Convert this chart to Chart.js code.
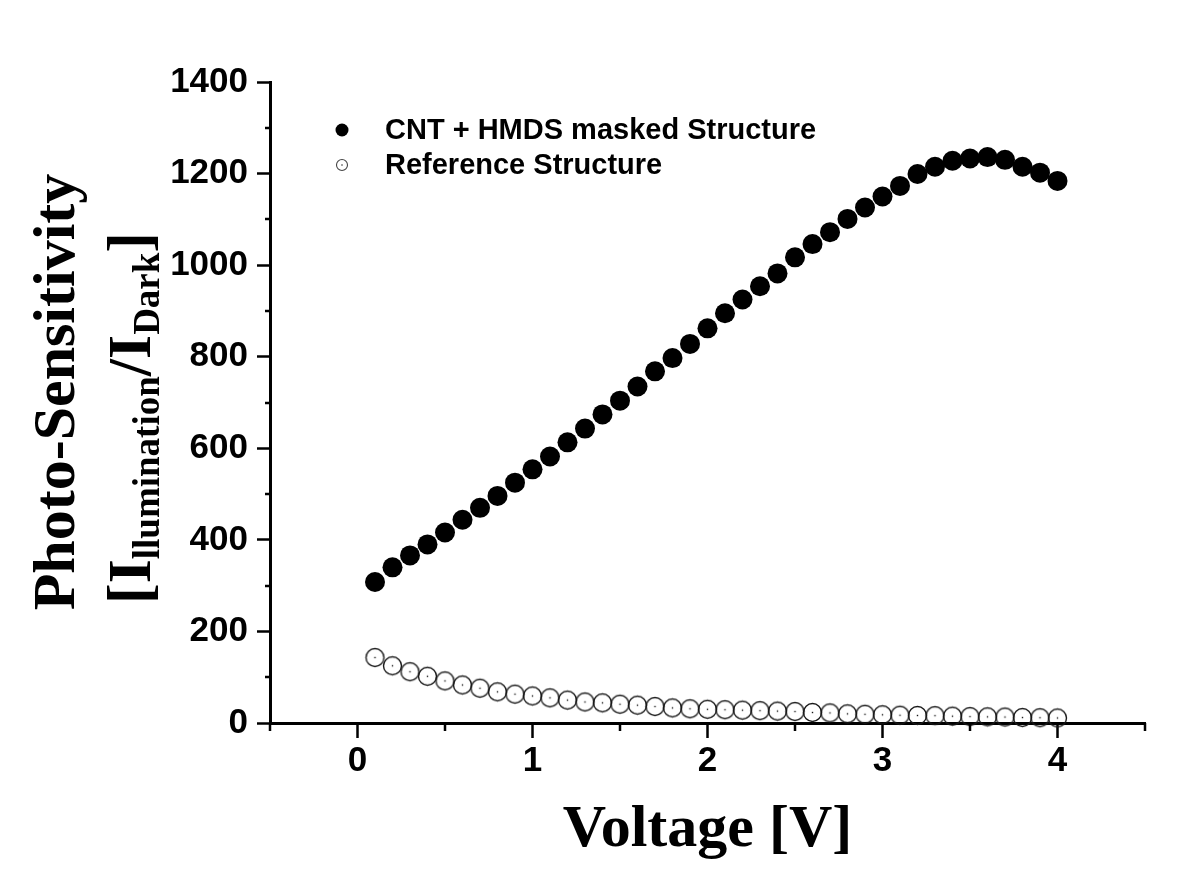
<!DOCTYPE html>
<html>
<head>
<meta charset="utf-8">
<script src="https://cdn.jsdelivr.net/npm/chart.js@4/dist/chart.umd.min.js"></script>
<style>
  html, body { margin: 0; padding: 0; background: #ffffff; }
  #wrap { width: 1200px; height: 869px; position: relative; }
</style>
</head>
<body>
<div id="wrap"><canvas id="c"></canvas></div>
<script>
// ---------------- data ----------------
const voltage = [0.1, 0.2, 0.3, 0.4, 0.5, 0.6, 0.7, 0.8, 0.9, 1.0,
                 1.1, 1.2, 1.3, 1.4, 1.5, 1.6, 1.7, 1.8, 1.9, 2.0,
                 2.1, 2.2, 2.3, 2.4, 2.5, 2.6, 2.7, 2.8, 2.9, 3.0,
                 3.1, 3.2, 3.3, 3.4, 3.5, 3.6, 3.7, 3.8, 3.9, 4.0];
const cntHmdsMasked = [308, 340, 366, 390, 416, 444, 470, 496, 525, 554,
                       582, 613, 643, 674, 704, 735, 768, 797, 828, 862,
                       895, 925, 954, 982, 1017, 1046, 1072, 1101, 1126, 1150,
                       1173, 1199, 1215, 1228, 1233, 1236, 1230, 1215, 1202, 1184];
const referenceStructure = [143, 125, 112, 102, 92, 83, 76, 68, 63, 59,
                            55, 50, 46, 44, 41, 39, 36, 33, 31, 30,
                            29, 28, 27, 26, 25, 23, 22, 20, 19, 18,
                            17, 16.5, 16, 15, 14, 13.5, 13, 12, 11.5, 11];
const seriesLabels = ['CNT + HMDS masked Structure', 'Reference Structure'];
const xTickValues = [0, 1, 2, 3, 4];
const xMinorTickValues = [-0.5, 0.5, 1.5, 2.5, 3.5, 4.5];
const yTickValues = [0, 200, 400, 600, 800, 1000, 1200, 1400];
const yMinorTickValues = [100, 300, 500, 700, 900, 1100, 1300];
const xRange = [-0.5, 4.5];
const yRange = [0, 1400];
const xTitleText = 'Voltage [V]';
const yTitleLine1 = 'Photo-Sensitivity';
const yTitleLine2 = [['[I', 'main'], ['llumination', 'sub'], ['/I', 'main'], ['Dark', 'sub'], [']', 'main']];

// ---------------- styles ----------------
const SANS = '"Liberation Sans", Arial, sans-serif';
const SERIF = '"Liberation Serif", "Times New Roman", serif';

function makeOpenCircle(r, lw, dot, color) {
  const s = Math.ceil(2 * r + lw + 2) | 1;
  const c = document.createElement('canvas');
  c.width = s; c.height = s;
  const g = c.getContext('2d');
  g.strokeStyle = color; g.lineWidth = lw;
  g.beginPath(); g.arc(s / 2, s / 2, r, 0, Math.PI * 2); g.stroke();
  g.fillStyle = color;
  g.fillRect(s / 2 - dot / 2, s / 2 - dot / 2, dot, dot);
  return c;
}
const openMarker = makeOpenCircle(9, 1.4, 1.4, '#1a1a1a');

const toPoints = (xs, ys) => xs.map((x, i) => ({ x: x, y: ys[i] }));

// minor ticks plugin
const minorTicks = {
  id: 'minorTicks',
  afterDraw(chart) {
    const ctx = chart.ctx;
    const xs = chart.scales.x, ys = chart.scales.y;
    ctx.save();
    ctx.strokeStyle = '#000';
    ctx.lineWidth = 2.5;
    ctx.beginPath();
    xMinorTickValues.forEach(v => {
      const px = Math.round(xs.getPixelForValue(v));
      ctx.moveTo(px, xs.top); ctx.lineTo(px, xs.top + 8);
    });
    yMinorTickValues.forEach(v => {
      const py = Math.round(ys.getPixelForValue(v));
      ctx.moveTo(ys.right - 5, py); ctx.lineTo(ys.right, py);
    });
    ctx.stroke();
    ctx.restore();
  }
};

// y-axis title with subscripts
const yTitle = {
  id: 'yTitle',
  afterDraw(chart) {
    const ctx = chart.ctx;
    ctx.save();
    ctx.fillStyle = '#000';
    // line 1
    ctx.save();
    ctx.translate(74, 392);
    ctx.rotate(-Math.PI / 2);
    ctx.font = 'bold 60px ' + SERIF;
    ctx.textAlign = 'center';
    ctx.textBaseline = 'alphabetic';
    ctx.fillText(yTitleLine1, 0, 0);
    ctx.restore();
    // line 2
    const fonts = { main: 'bold 62px ' + SERIF, sub: 'bold 37px ' + SERIF };
    const offs = { main: 0, sub: 9 };
    let total = 0;
    yTitleLine2.forEach(([t, k]) => { ctx.font = fonts[k]; total += ctx.measureText(t).width; });
    ctx.save();
    ctx.translate(150, 418);
    ctx.rotate(-Math.PI / 2);
    ctx.textAlign = 'left';
    ctx.textBaseline = 'alphabetic';
    let x = -total / 2;
    yTitleLine2.forEach(([t, k]) => {
      ctx.font = fonts[k];
      ctx.fillText(t, x, offs[k]);
      x += ctx.measureText(t).width;
    });
    ctx.restore();
    ctx.restore();
  }
};

// legend inside the plot area
const innerLegend = {
  id: 'innerLegend',
  afterDraw(chart) {
    const ctx = chart.ctx, a = chart.chartArea;
    const mx = a.left + 72, tx = a.left + 115, y0 = a.top + 48, dy = 35;
    ctx.save();
    ctx.font = 'bold 29px ' + SANS;
    ctx.textAlign = 'left';
    ctx.textBaseline = 'middle';
    ctx.fillStyle = '#000';
    chart.data.datasets.forEach((ds, i) => {
      const y = y0 + i * dy;
      if (i === 0) {
        ctx.beginPath(); ctx.arc(mx, y, 6.5, 0, Math.PI * 2); ctx.fill();
      } else {
        ctx.strokeStyle = '#444'; ctx.lineWidth = 1.1;
        ctx.beginPath(); ctx.arc(mx, y, 5.5, 0, Math.PI * 2); ctx.stroke();
        ctx.fillRect(mx - 0.6, y - 0.6, 1.2, 1.2);
      }
      ctx.fillText(ds.label, tx, y + 1);
    });
    ctx.restore();
  }
};

const whiteBg = {
  id: 'whiteBg',
  beforeDraw(chart) {
    const ctx = chart.ctx;
    ctx.save(); ctx.fillStyle = '#fff'; ctx.fillRect(0, 0, chart.width, chart.height); ctx.restore();
  }
};

const tickFont = { family: SANS, size: 35, weight: 'bold' };

new Chart(document.getElementById('c'), {
  type: 'scatter',
  data: {
    datasets: [
      {
        label: seriesLabels[0],
        data: toPoints(voltage, cntHmdsMasked),
        pointRadius: 10,
        pointHoverRadius: 10,
        backgroundColor: '#000',
        borderColor: '#000',
        borderWidth: 0,
        showLine: false,
        clip: false
      },
      {
        label: seriesLabels[1],
        data: toPoints(voltage, referenceStructure),
        pointStyle: openMarker,
        pointRadius: 10,
        backgroundColor: 'rgba(0,0,0,0)',
        borderColor: '#222',
        showLine: false,
        clip: false
      }
    ]
  },
  options: {
    responsive: true,
    maintainAspectRatio: false,
    animation: false,
    devicePixelRatio: 1,
    events: [],
    layout: { padding: { top: 82, right: 55, bottom: 0, left: 0 } },
    plugins: { legend: { display: false }, tooltip: { enabled: false } },
    scales: {
      x: {
        type: 'linear',
        position: 'bottom',
        min: xRange[0],
        max: xRange[1],
        afterBuildTicks: s => { s.ticks = xTickValues.map(v => ({ value: v })); },
        afterFit: s => { s.height = 146; },
        border: { display: true, color: '#000', width: 3 },
        grid: { display: true, drawOnChartArea: false, drawTicks: true, tickLength: 15, tickWidth: 2.5, tickColor: '#000' },
        ticks: { font: tickFont, color: '#000', padding: 2, maxRotation: 0, autoSkip: false, callback: v => String(v) },
        title: {
          display: true, text: xTitleText, color: '#000',
          font: { family: SERIF, size: 60, weight: 'bold' },
          padding: { top: 0, bottom: 3 }
        }
      },
      y: {
        type: 'linear',
        position: 'left',
        min: yRange[0],
        max: yRange[1],
        afterBuildTicks: s => { s.ticks = yTickValues.map(v => ({ value: v })); },
        afterFit: s => { s.width = 270; },
        border: { display: true, color: '#000', width: 3 },
        grid: { display: true, drawOnChartArea: false, drawTicks: true, tickLength: 13, tickWidth: 2.5, tickColor: '#000' },
        ticks: { font: tickFont, color: '#000', padding: 9, autoSkip: false, callback: v => String(v) }
      }
    }
  },
  plugins: [whiteBg, minorTicks, yTitle, innerLegend]
});
</script>
</body>
</html>
